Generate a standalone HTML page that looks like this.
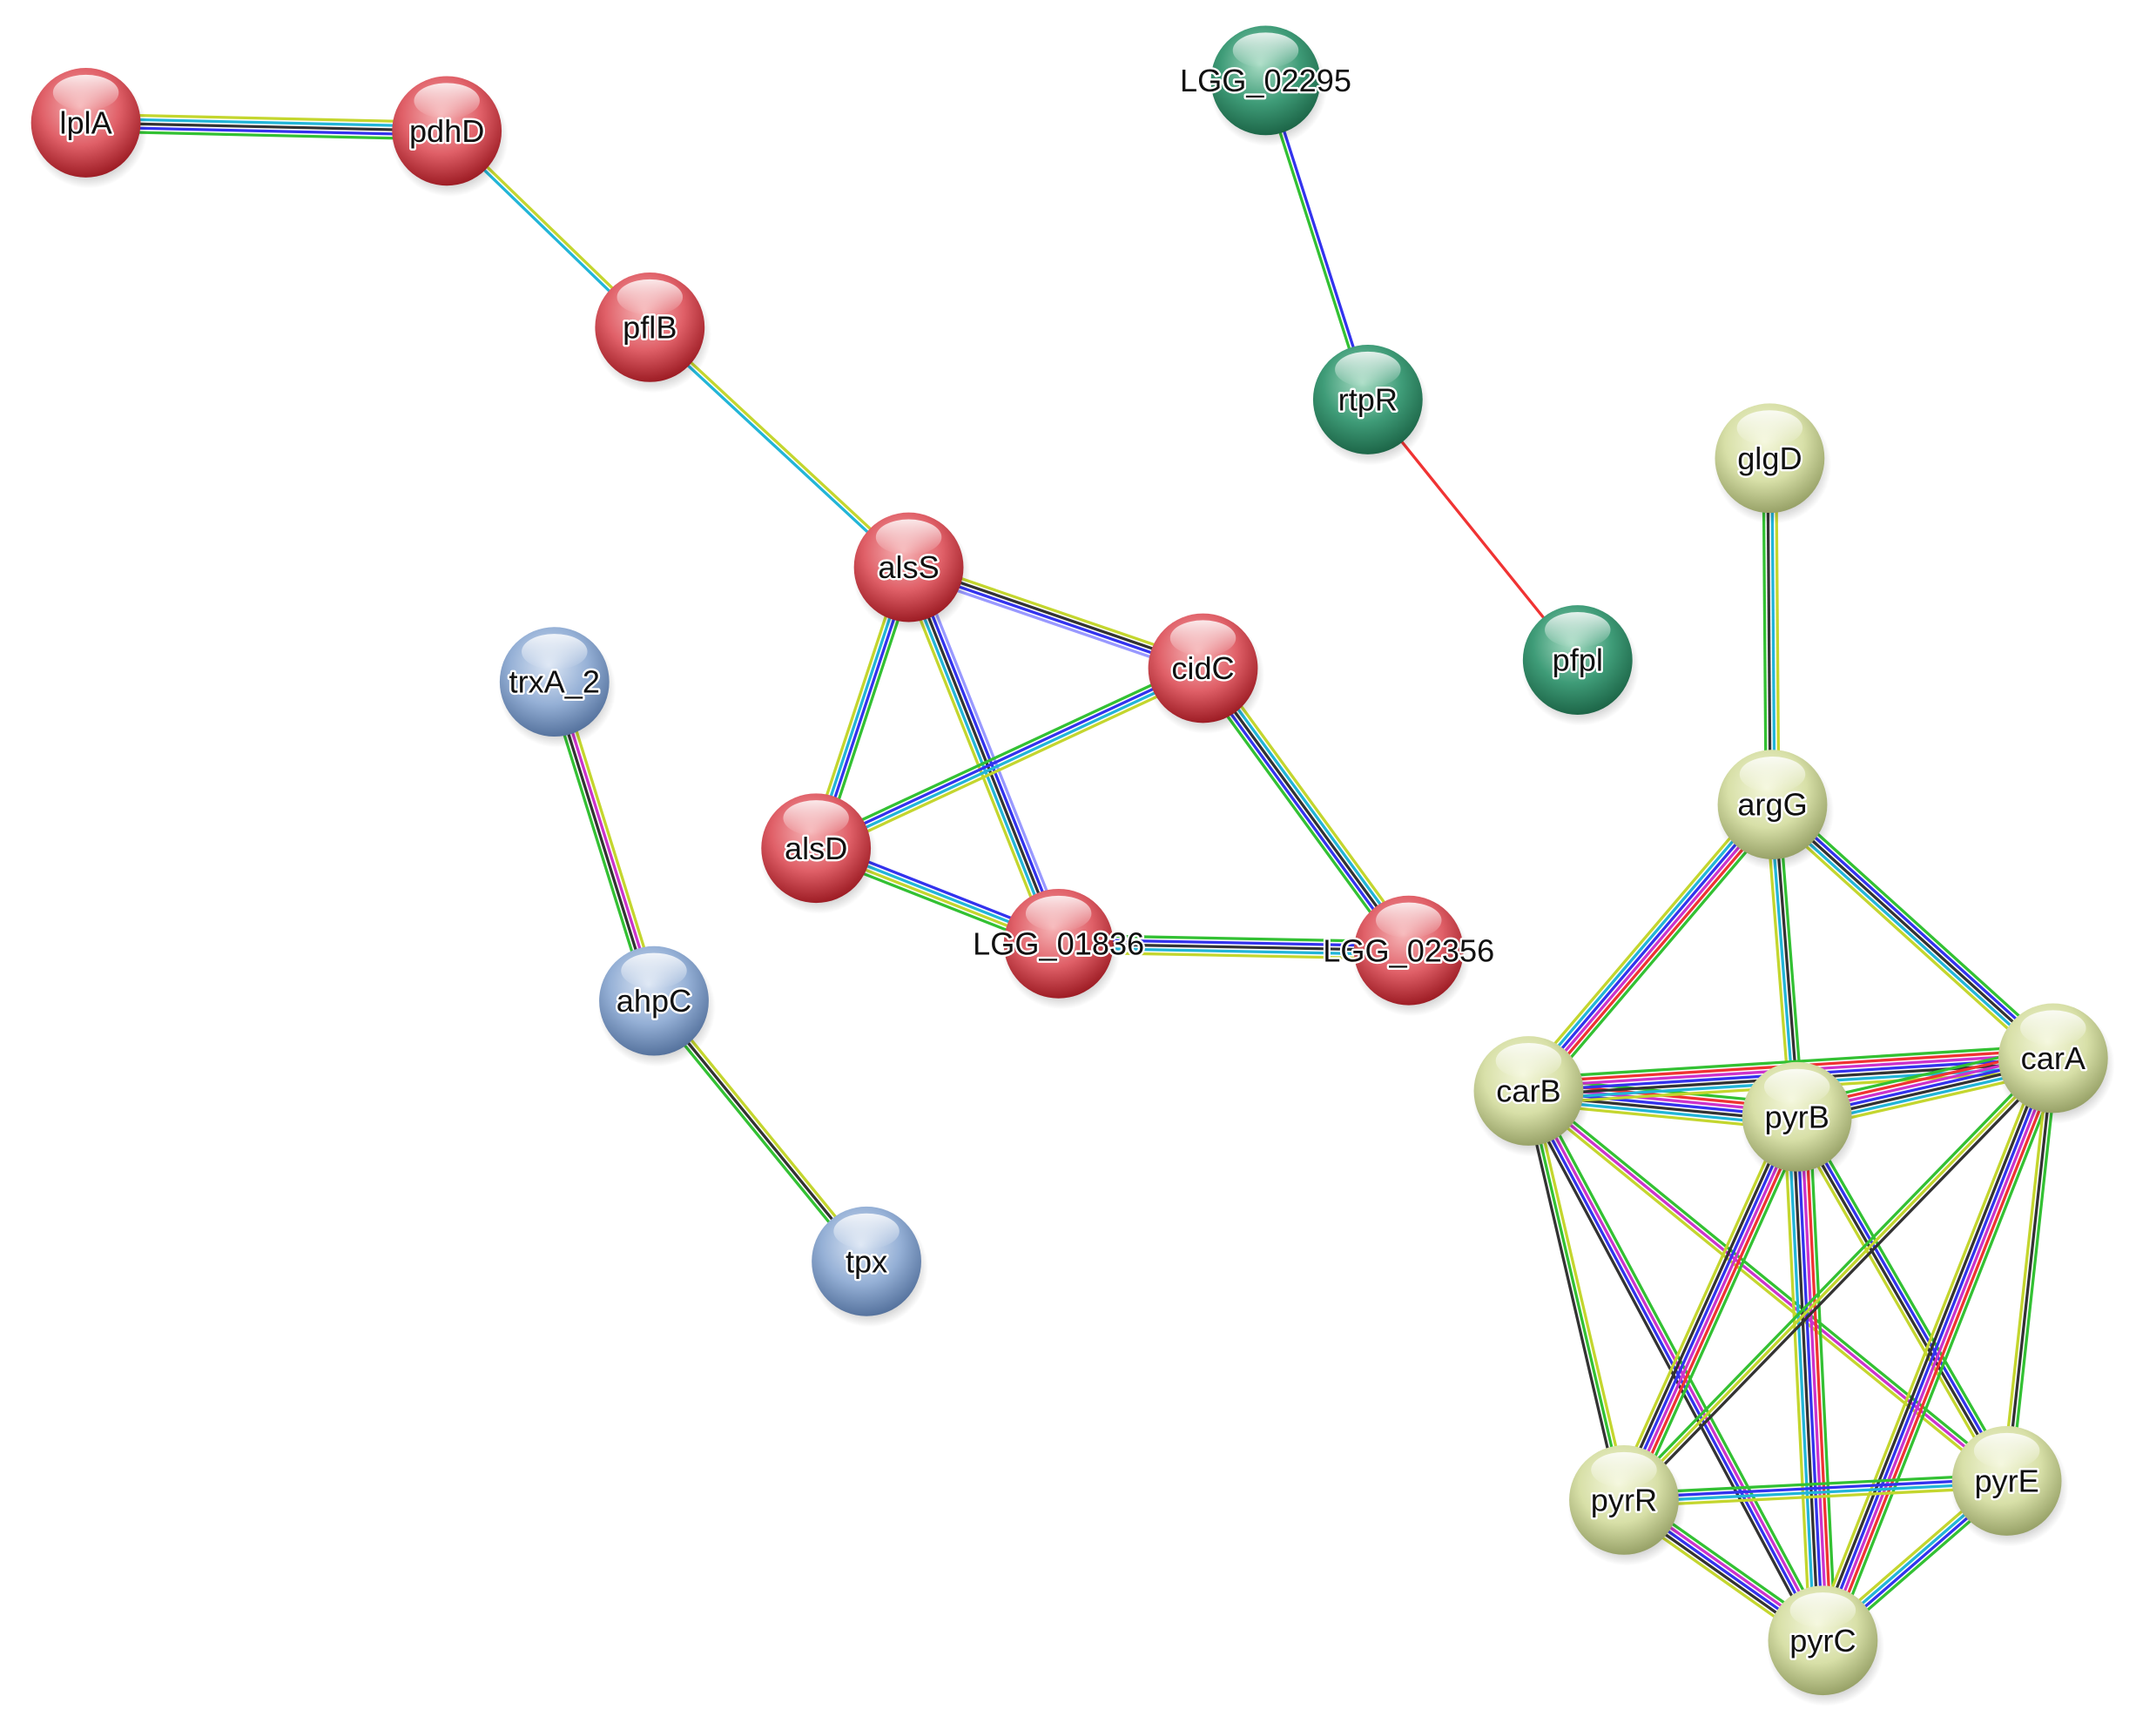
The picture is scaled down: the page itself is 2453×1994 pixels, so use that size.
<!DOCTYPE html>
<html><head><meta charset="utf-8"><style>html,body{margin:0;padding:0;background:#fff}svg{display:block}</style></head>
<body>
<svg id="s" xmlns="http://www.w3.org/2000/svg" width="2453" height="1994" viewBox="0 0 1560 1268" preserveAspectRatio="none">
<defs>
<radialGradient id="gr" cx="45%" cy="35%" r="65%"><stop offset="0" stop-color="#f6b5b7"/><stop offset="0.55" stop-color="#e06068"/><stop offset="1" stop-color="#9e1d25"/></radialGradient>
<radialGradient id="gg" cx="45%" cy="35%" r="65%"><stop offset="0" stop-color="#a8dcc4"/><stop offset="0.55" stop-color="#3f9c78"/><stop offset="1" stop-color="#1d6648"/></radialGradient>
<radialGradient id="gy" cx="45%" cy="35%" r="65%"><stop offset="0" stop-color="#f4f7dc"/><stop offset="0.55" stop-color="#d8e0a8"/><stop offset="1" stop-color="#98a268"/></radialGradient>
<radialGradient id="gb" cx="45%" cy="35%" r="65%"><stop offset="0" stop-color="#dce6f4"/><stop offset="0.55" stop-color="#95b0d6"/><stop offset="1" stop-color="#56739e"/></radialGradient>
<radialGradient id="sh" cx="50%" cy="50%" r="50%"><stop offset="0.7" stop-color="#000" stop-opacity="0.25"/><stop offset="1" stop-color="#000" stop-opacity="0"/></radialGradient>
<linearGradient id="hl" x1="0" y1="0" x2="0" y2="1"><stop offset="0" stop-color="#fff" stop-opacity="0.85"/><stop offset="1" stop-color="#fff" stop-opacity="0"/></linearGradient>
</defs>
<g id="edges"></g><g id="nodes"></g>
</svg>
<script>
var N={lplA:[63,90,'r'],pdhD:[328,96,'r'],pflB:[477,240,'r'],LGG_02295:[929,59,'g'],rtpR:[1004,293,'g'],pfpl:[1158,484,'g'],glgD:[1299,336,'y'],alsS:[667,416,'r'],cidC:[883,490,'r'],trxA_2:[407,500,'b'],alsD:[599,622,'r'],LGG_01836:[777,692,'r'],LGG_02356:[1034,697,'r'],argG:[1301,590,'y'],carB:[1122,800,'y'],pyrB:[1319,819,'y'],carA:[1507,776,'y'],ahpC:[480,734,'b'],tpx:[636,925,'b'],pyrR:[1192,1100,'y'],pyrE:[1473,1086,'y'],pyrC:[1338,1203,'y']};
for(var k in N){N[k][0]=N[k][0]*0.995;N[k][1]=N[k][1]*0.996;}
var C={G:'#33c133',Y:'#c4d62e',K:'#333',B:'#3333ee',T:'#22b5d8',M:'#cc33cc',R:'#f03333',V:'#9999ff'};
var E=[['lplA','pdhD','YTKBG'],['pdhD','pflB','YT'],['pflB','alsS','YT'],['LGG_02295','rtpR','BG'],['rtpR','pfpl','R'],['glgD','argG','YTKG'],
['alsS','cidC','YKBV'],['alsS','alsD','GBTY'],['alsS','LGG_01836','VBKTY'],['cidC','alsD','YTBG'],['cidC','LGG_02356','YTKBG'],['alsD','LGG_01836','BTYG'],['LGG_01836','LGG_02356','GBKTY'],
['trxA_2','ahpC','YMKG'],['ahpC','tpx','YKG'],
['argG','carB','GRMBTY'],['argG','pyrB','GKTY'],['argG','carA','GBKTY'],['carB','pyrB','GRMBKTY'],['carB','carA','GRMBKTY'],['pyrB','carA','GRMBKTY'],
['carB','pyrR','YGK'],['carB','pyrC','GMBK'],['carB','pyrE','GMY'],['pyrB','pyrR','GRMBKY'],['pyrB','pyrC','GRMBKTY'],['pyrB','pyrE','GBKY'],
['carA','pyrR','KYG'],['carA','pyrC','GRMBKY'],['carA','pyrE','GKY'],['pyrR','pyrE','GBTY'],['pyrR','pyrC','GMBKY'],['pyrE','pyrC','GBTY']];
var ns='http://www.w3.org/2000/svg',eg=document.getElementById('edges'),ng=document.getElementById('nodes');
function el(t,a,p){var e=document.createElementNS(ns,t);for(var k in a)e.setAttribute(k,a[k]);p.appendChild(e);return e;}
E.forEach(function(e){var a=N[e[0]],b=N[e[1]],dx=b[0]-a[0],dy=b[1]-a[1],L=Math.hypot(dx,dy),px=-dy/L,py=dx/L,n=e[2].length,sp=3.1;
for(var i=0;i<n;i++){var o=(i-(n-1)/2)*sp;el('line',{x1:a[0]+px*o,y1:a[1]+py*o,x2:b[0]+px*o,y2:b[1]+py*o,stroke:C[e[2][i]],'stroke-width':2.1},eg);}});
for(var k in N){var v=N[k],x=v[0],y=v[1];
el('circle',{cx:x+2,cy:y+5,r:43,fill:'url(#sh)'},ng);
el('circle',{cx:x,cy:y,r:40,fill:'url(#g'+v[2]+')'},ng);
el('ellipse',{cx:x,cy:y-22,rx:24,ry:13,fill:'url(#hl)'},ng);
var t=el('text',{x:x,y:y+8,'text-anchor':'middle','font-family':'Liberation Sans, sans-serif','font-size':23,fill:'#111',stroke:'#fff','stroke-width':3,'paint-order':'stroke','stroke-linejoin':'round'},ng);
t.textContent=k;}
</script>
</body></html>
